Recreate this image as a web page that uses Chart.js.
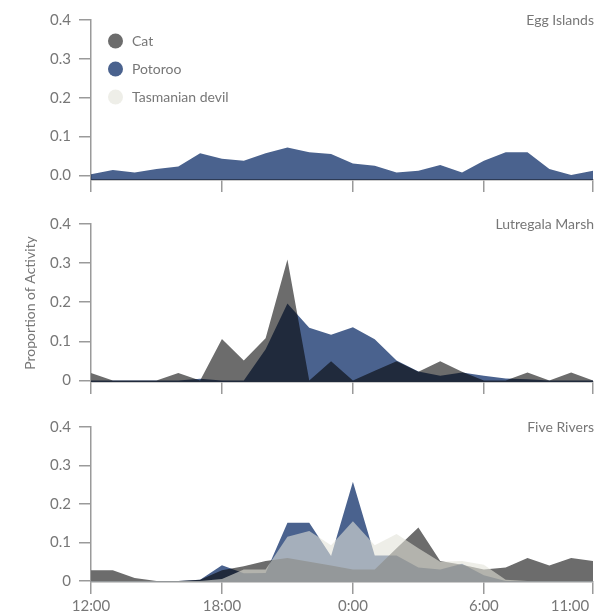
<!DOCTYPE html>
<html>
<head>
<meta charset="utf-8">
<script src="https://cdn.jsdelivr.net/npm/chart.js@4.4.1/dist/chart.umd.min.js"></script>
<style>
  html, body { margin: 0; padding: 0; background: #fff; }
  canvas { display: block; }
</style>
</head>
<body>
<canvas id="eggIslands" width="596" height="200"></canvas>
<canvas id="lutregala" width="596" height="205"></canvas>
<canvas id="fiveRivers" width="596" height="207"></canvas>
<script>
const hours = ['12:00', '13:00', '14:00', '15:00', '16:00', '17:00', '18:00', '19:00',
  '20:00', '21:00', '22:00', '23:00', '0:00', '1:00', '2:00', '3:00', '4:00', '5:00',
  '6:00', '7:00', '8:00', '9:00', '10:00', '11:00'];
const labelledHours = ['12:00', '18:00', '0:00', '6:00', '11:00'];
const yTicks = [0, 0.1, 0.2, 0.3, 0.4];
const species = ['Cat', 'Potoroo', 'Tasmanian devil'];

// Egg Islands
const eggPotoroo = [0.003, 0.014, 0.008, 0.017, 0.023, 0.057, 0.043, 0.038, 0.057, 0.072, 0.060, 0.055,
  0.031, 0.025, 0.008, 0.012, 0.027, 0.008, 0.038, 0.060, 0.060, 0.017, 0.001, 0.012];

// Lutregala Marsh
const lutCat = [0.019, 0, 0, 0, 0.019, 0, 0.106, 0.051, 0.108, 0.309, 0, 0.049,
  0, 0.025, 0.049, 0.022, 0.049, 0.022, 0, 0, 0.020, 0, 0.020, 0];
const lutPotoroo = [0, 0, 0, 0, 0, 0.004, 0, 0, 0.080, 0.197, 0.135, 0.117,
  0.136, 0.105, 0.051, 0.023, 0.012, 0.020, 0.012, 0.005, 0.003, 0, 0, 0];

// Five Rivers
const fiveCat = [0.028, 0.028, 0.008, 0, 0, 0.003, 0.028, 0.038, 0.052, 0.060, 0.050, 0.040,
  0.030, 0.030, 0.085, 0.139, 0.052, 0.042, 0.030, 0.035, 0.060, 0.040, 0.060, 0.052];
const fivePotoroo = [0, 0, 0, 0, 0, 0.003, 0.041, 0.020, 0.021, 0.151, 0.151, 0.065,
  0.258, 0.066, 0.066, 0.035, 0.030, 0.045, 0.015, 0, 0, 0, 0, 0];
const fiveDevil = [0, 0, 0, 0, 0, 0, 0.005, 0.030, 0.030, 0.115, 0.130, 0.093,
  0.155, 0.093, 0.122, 0.085, 0.050, 0.052, 0.042, 0.003, 0, 0, 0, 0];

const fills = ['#6c6c6c', '#4a628e', 'rgba(227, 227, 217, 0.6)'];
const blends = ['source-over', 'multiply', 'source-over'];
const textGray = '#777';
const axisGray = '#9a9a9a';

Chart.defaults.font.family = 'Lato';

// the filler paints in beforeDatasetDraw, so the composite mode for the
// next dataset is set once the previous one has finished
function setBlend(chart, meta) {
  const ds = meta ? chart.data.datasets[meta.index] : null;
  chart.ctx.globalCompositeOperation = ds && ds.blend ? ds.blend : 'source-over';
}
const blendPlugin = {
  id: 'blend',
  beforeDatasetsDraw(chart) {
    const metas = chart.getSortedVisibleDatasetMetas();
    setBlend(chart, metas[metas.length - 1]);
  },
  afterDatasetDraw(chart, args) {
    const metas = chart.getSortedVisibleDatasetMetas();
    setBlend(chart, metas[metas.indexOf(args.meta) - 1]);
  },
  afterDatasetsDraw(chart) {
    chart.ctx.globalCompositeOperation = 'source-over';
  }
};

const panelText = {
  id: 'panelText',
  afterDraw(chart, args, opts) {
    const { ctx, chartArea } = chart;
    ctx.save();
    ctx.font = '14px Lato';
    ctx.textBaseline = 'middle';
    ctx.textAlign = 'right';
    ctx.fillStyle = textGray;
    ctx.fillText(opts.title, chartArea.right + 1, chartArea.top);
    if (opts.legend) {
      ctx.textAlign = 'left';
      species.forEach((name, i) => {
        const y = chartArea.top + 21 + i * 28;
        ctx.beginPath();
        ctx.arc(chartArea.left + 24.5, y, 7.5, 0, Math.PI * 2);
        ctx.fillStyle = fills[i];
        ctx.fill();
        ctx.fillStyle = textGray;
        ctx.fillText(name, chartArea.left + 41, y);
      });
    }
    ctx.restore();
  }
};

function panel(id, title, series, cfg) {
  return new Chart(document.getElementById(id), {
    type: 'line',
    data: {
      labels: hours,
      datasets: series.map(([k, values]) => ({
        label: species[k],
        data: values,
        order: 3 - k,
        blend: blends[k],
        backgroundColor: fills[k],
        borderColor: 'rgba(0,0,0,0)',
        borderWidth: 0,
        pointRadius: 0,
        pointHoverRadius: 0,
        fill: 'start',
        tension: 0
      }))
    },
    options: {
      responsive: false,
      animation: false,
      events: [],
      layout: { padding: cfg.padding },
      plugins: {
        legend: { display: false },
        tooltip: { enabled: false },
        panelText: { title: title, legend: !!cfg.legend }
      },
      scales: {
        x: {
          z: 1,
          offset: false,
          border: { color: axisGray, width: 1.5 },
          grid: {
            drawOnChartArea: false,
            tickLength: 12,
            lineWidth: 1.5,
            color: c => labelledHours.includes(hours[c.index]) ? axisGray : 'rgba(0,0,0,0)'
          },
          ticks: {
            display: !!cfg.xLabels,
            autoSkip: false,
            maxRotation: 0,
            minRotation: 0,
            padding: 3,
            color: textGray,
            font: { size: 15 },
            callback: (value, index) => {
              const h = hours[index];
              if (!labelledHours.includes(h)) return '';
              return index === hours.length - 1 ? h + ' '.repeat(12) : h;
            }
          },
          afterFit: s => { s.height = cfg.xHeight; s.paddingLeft = 0; s.paddingRight = 0; }
        },
        y: {
          z: 1,
          min: cfg.min,
          max: 0.4,
          afterBuildTicks: s => { s.ticks = yTicks.map(v => ({ value: v })); },
          border: { color: axisGray, width: 1.5 },
          grid: { drawOnChartArea: false, tickLength: 12, lineWidth: 1.5, color: axisGray },
          ticks: {
            padding: 8,
            color: textGray,
            font: { size: 15 },
            callback: v => (cfg.plainZero && v === 0) ? '0' : v.toFixed(1)
          },
          title: {
            display: !!cfg.yTitle,
            text: 'Proportion of Activity',
            color: textGray,
            font: { size: 14 },
            padding: { top: 4, bottom: 0 }
          },
          afterFit: s => { s.width = 73; }
        }
      }
    },
    plugins: [blendPlugin, panelText]
  });
}

panel('eggIslands', 'Egg Islands', [[1, eggPotoroo]], {
  padding: { left: 18, right: 3, top: 20, bottom: 8 },
  xHeight: 12, min: -0.0116, legend: true
});
panel('lutregala', 'Lutregala Marsh', [[0, lutCat], [1, lutPotoroo]], {
  padding: { left: 18, right: 3, top: 24, bottom: 11 },
  xHeight: 12, min: -0.004, plainZero: true, yTitle: true
});
panel('fiveRivers', 'Five Rivers', [[0, fiveCat], [1, fivePotoroo], [2, fiveDevil]], {
  padding: { left: 18, right: 3, top: 22, bottom: 0 },
  xHeight: 30, min: -0.0026, plainZero: true, xLabels: true
});
</script>
</body>
</html>
